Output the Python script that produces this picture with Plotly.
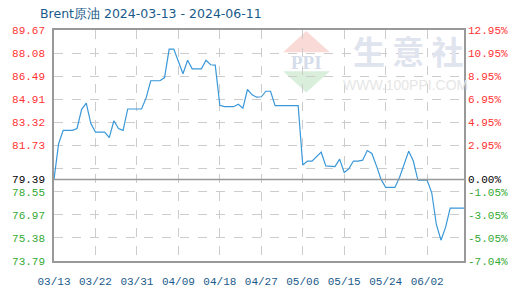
import plotly.graph_objects as go
import pandas as pd

# ---- data ----
start_date = "2024-03-13"
prices = [
    79.39, 81.85, 82.77, 82.77, 82.77, 82.90, 84.22, 84.64, 83.24, 82.65,
    82.65, 82.65, 82.27, 83.43, 82.90, 82.77, 84.24, 84.24, 84.24, 84.24,
    85.00, 86.18, 86.18, 86.18, 86.40, 88.36, 88.36, 87.46, 86.66, 87.59,
    87.00, 87.00, 87.00, 87.59, 87.28, 87.26, 84.49, 84.40, 84.40, 84.40,
    84.57, 84.29, 85.58, 85.21, 85.05, 85.08, 85.46, 85.46, 84.47, 84.47,
    84.47, 84.47, 84.47, 84.47, 80.39, 80.66, 80.66, 80.99, 81.27, 80.33,
    80.28, 80.28, 80.79, 79.88, 80.13, 80.66, 80.66, 80.72, 81.38, 81.18,
    80.33, 79.40, 78.85, 78.85, 78.85, 79.53, 80.39, 81.34, 80.66, 79.34,
    79.34, 79.34, 78.48, 76.30, 75.22, 76.10, 77.42, 77.42, 77.42, 77.42,
]
dates = pd.date_range(start_date, periods=len(prices), freq="D")

base_value = 79.39
left_tick_values = [89.67, 88.08, 86.49, 84.91, 83.32, 81.73, 80.14, 79.39, 78.55, 76.97, 75.38, 73.79]
left_tick_labels = ["89.67", "88.08", "86.49", "84.91", "83.32", "81.73", "", "79.39", "78.55", "76.97", "75.38", "73.79"]
right_tick_labels = ["12.95%", "10.95%", "8.95%", "6.95%", "4.95%", "2.95%", "", "0.00%", "-1.05%", "-3.05%", "-5.05%", "-7.04%"]
x_tick_dates = ["2024-03-13", "2024-03-22", "2024-03-31", "2024-04-09", "2024-04-18",
                "2024-04-27", "2024-05-06", "2024-05-15", "2024-05-24", "2024-06-02"]
x_tick_labels = ["03/13", "03/22", "03/31", "04/09", "04/18", "04/27", "05/06", "05/15", "05/24", "06/02"]
title_text = "Brent原油 2024-03-13 - 2024-06-11"

RED = "#ff3333"
GREEN = "#33aa33"
BLACK = "#000000"
BLUE_TXT = "#1a5a8a"
GRID = "#cccccc"
AXIS = "#999999"
LINE = "#3a98d8"


def colored(labels, values):
    out = []
    for lab, v in zip(labels, values):
        if lab == "":
            out.append("")
            continue
        c = RED if v > base_value + 1e-9 else (BLACK if abs(v - base_value) < 1e-9 else GREEN)
        out.append(f"<span style='color:{c}'>{lab}</span>")
    return out


fig = go.Figure()

# watermark (decoration)
fig.add_shape(type="path", xref="paper", yref="paper",
              path="M 0.615 0.996 L 0.559 0.904 L 0.673 0.904 Z",
              fillcolor="#f9dad6", line=dict(width=0), layer="below")
fig.add_shape(type="path", xref="paper", yref="paper",
              path="M 0.615 0.729 L 0.559 0.821 L 0.673 0.821 Z",
              fillcolor="#d9efdc", line=dict(width=0), layer="below")
fig.add_annotation(x=0.615, y=0.860, xref="paper", yref="paper", text="<b>PPI</b>",
                   xanchor="center", yanchor="middle",
                   showarrow=False, font=dict(family="Liberation Serif", size=19, color="#d5dcea"))
fig.add_annotation(x=0.864, y=0.912, xref="paper", yref="paper", text="<b>生 意 社</b>",
                   xanchor="center", yanchor="middle",
                   showarrow=False, font=dict(family="Noto Sans CJK SC", size=32, color="#dfe4ee"))
fig.add_annotation(x=0.857, y=0.762, xref="paper", yref="paper", text="WWW.100PPI.COM",
                   xanchor="center", yanchor="middle",
                   showarrow=False, font=dict(family="Liberation Sans", size=14, color="#e6e6e6"))

fig.add_trace(go.Scatter(
    x=dates, y=prices, mode="lines",
    line=dict(color=LINE, width=1.2),
    hoverinfo="skip", showlegend=False,
))
# invisible trace to activate right axis
fig.add_trace(go.Scatter(
    x=[dates[0]], y=[base_value], yaxis="y2", mode="lines",
    line=dict(width=0), hoverinfo="skip", showlegend=False,
))

# base line at first value
fig.add_shape(type="line", xref="paper", x0=0, x1=1, yref="y", y0=base_value, y1=base_value,
              line=dict(color=AXIS, width=1.5))

ymin, ymax = 73.79, 89.67
fig.update_layout(
    width=520, height=300,
    margin=dict(l=40, r=49, t=30, b=30),
    paper_bgcolor="white", plot_bgcolor="white",
    font=dict(family="Liberation Mono", size=11),
    title=dict(text=title_text, x=40 / 520, xanchor="left", y=1 - 14 / 300, yanchor="middle",
               font=dict(family="DejaVu Sans", size=12.5, color=BLUE_TXT)),
    xaxis=dict(
        type="date", range=[dates[0], dates[-1]],
        tickvals=x_tick_dates, ticktext=x_tick_labels,
        tickfont=dict(color=BLUE_TXT, size=11, family="Liberation Mono"),
        showgrid=True, gridcolor=GRID, griddash="dash", gridwidth=1,
        showline=True, linecolor=AXIS, linewidth=1.5, mirror=True,
        ticks="", ticklabelstandoff=9, zeroline=False,
    ),
    yaxis=dict(
        range=[ymin, ymax], tickvals=left_tick_values,
        ticktext=colored(left_tick_labels, left_tick_values),
        tickfont=dict(size=11, family="Liberation Mono"),
        showgrid=True, gridcolor=GRID, griddash="dash", gridwidth=1,
        showline=True, linecolor=AXIS, linewidth=1.5, mirror=True,
        ticks="", ticklabelstandoff=5, zeroline=False,
    ),
    yaxis2=dict(
        range=[ymin, ymax], overlaying="y", side="right",
        tickvals=left_tick_values,
        ticktext=colored(right_tick_labels, left_tick_values),
        tickfont=dict(size=11, family="Liberation Mono"),
        showgrid=False, showline=False, zeroline=False,
        ticks="", ticklabelstandoff=3,
    ),
)

fig.write_html("out.html")
